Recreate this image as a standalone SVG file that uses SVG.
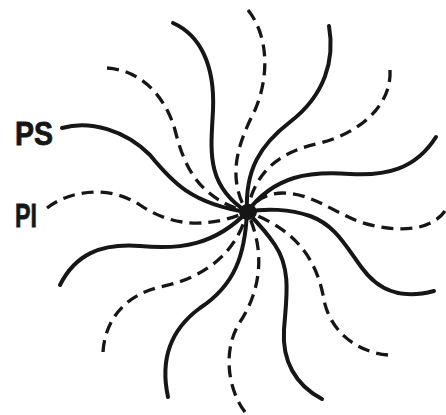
<svg xmlns="http://www.w3.org/2000/svg" width="446" height="415" viewBox="0 0 446 415">
<style>
.s{fill:none;stroke:#161616;stroke-width:4;stroke-linecap:round;stroke-linejoin:round}
.d{fill:none;stroke:#161616;stroke-width:3.3;stroke-dasharray:12 7;stroke-linecap:butt}
.lbl{font-family:"Liberation Sans",Arial,sans-serif;font-weight:bold;font-size:34px;fill:#161616;stroke:#161616;stroke-width:0.8}
</style>
<rect width="446" height="415" fill="#fff"/>
<g id="connectors">
<path id="ps" class="s" d="M62,128 C90,120 125,130 150,155 C172,182 192,204 247,212"/>
<path class="s" d="M173,23 C200,35 215,65 213,110 C211,150 205,185 247,212"/>
<path class="s" d="M329,26 C335,60 325,95 290,122 C260,145 245,170 247,212"/>
<path class="s" d="M436,137 C415,170 385,176 350,174 C310,171 275,175 247,212"/>
<path class="s" d="M434,291 C400,300 378,290 362,268 C345,245 335,225 310,216 C290,209 265,208 247,212"/>
<path class="s" d="M322,399 C295,385 282,360 284,330 C286,300 292,270 275,245 C265,230 255,220 247,212"/>
<path class="s" d="M168,397 C160,360 170,330 200,308 C235,285 245,255 247,212"/>
<path class="s" d="M60,285 C75,255 100,243 140,246 C180,250 215,245 247,212"/>
<path id="pi" class="d" d="M47,208 C70,190 110,185 140,205 C165,222 200,232 247,212"/>
<path class="d" d="M107,68 C140,70 165,95 175,130 C185,170 200,198 247,212"/>
<path class="d" d="M248,10 C268,35 270,75 255,110 C240,140 225,175 247,212"/>
<path class="d" d="M390,70 C392,105 360,133 320,143 C280,152 255,170 247,212"/>
<path class="d" d="M445,211 C430,232 395,233 360,222 C330,210 310,193 283,193 C268,193 255,200 247,212"/>
<path class="d" d="M388,355 C355,352 330,330 324,300 C318,265 300,230 247,212"/>
<path class="d" d="M245,412 C228,390 222,350 240,322 C258,295 268,255 247,212"/>
<path class="d" d="M103,352 C105,320 125,295 160,287 C195,280 235,260 247,212"/>
</g>
<g id="center"><ellipse cx="248" cy="212" rx="9" ry="8" fill="#161616"/></g>
<g id="label-ps"><text class="lbl" x="15" y="145" textLength="38" lengthAdjust="spacingAndGlyphs">PS</text></g>
<g id="label-pi"><text class="lbl" x="15" y="227" textLength="22" lengthAdjust="spacingAndGlyphs">PI</text></g>
</svg>
